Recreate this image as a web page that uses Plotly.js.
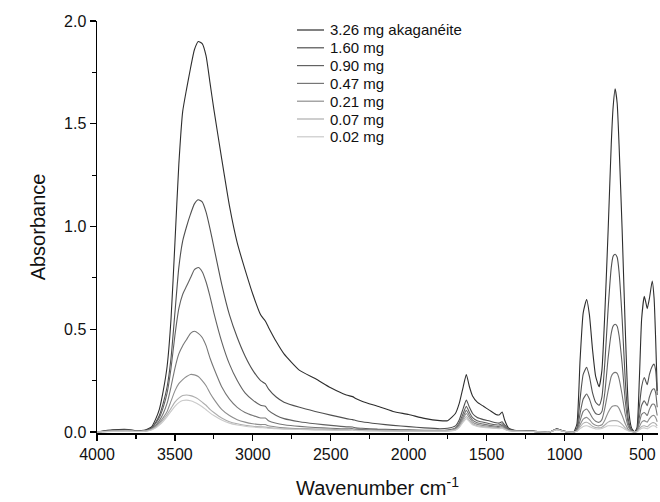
<!DOCTYPE html>
<html>
<head>
<meta charset="utf-8">
<script src="https://cdn.plot.ly/plotly-3.0.1.min.js"></script>
<style>html,body{margin:0;padding:0;background:#fff;}#chart{width:660px;height:502px;}</style>
</head>
<body>
<div id="chart"></div>
<script>
const wavenumber = [4000,3900,3800,3750,3700,3675,3650,3625,3600,3575,3550,3525,3500,3475,3450,3425,3400,3375,3350,3325,3300,3275,3250,
  3200,3150,3100,3050,3000,2950,2920,2900,2850,2800,
  2700,2600,2500,2400,2360,2340,2300,2200,2100,2000,1900,1800,1750,
  1700,1675,1650,1630,1610,1590,1560,1520,1480,1440,1420,1400,1385,1360,1300,
  1200,1100,1050,1000,950,
  940,920,900,880,858,840,820,800,778,760,740,720,700,688,675,662,650,630,610,590,570,550,535,520,505,488,475,469,455,437,425,415,405];

const seriesNames = ["3.26 mg akaganéite","1.60 mg","0.90 mg","0.47 mg","0.21 mg","0.07 mg","0.02 mg"];

const abs326 = [0.000,0.010,0.012,0.006,0.008,0.015,0.025,0.06,0.11,0.20,0.32,0.55,0.92,1.30,1.56,1.67,1.77,1.86,1.90,1.89,1.83,1.70,1.57,
  1.33,1.10,0.92,0.79,0.67,0.57,0.54,0.51,0.44,0.38,
  0.30,0.26,0.215,0.18,0.172,0.163,0.15,0.125,0.10,0.085,0.066,0.055,0.055,
  0.09,0.14,0.22,0.28,0.22,0.175,0.145,0.125,0.105,0.085,0.083,0.097,0.06,0.02,0.006,
  0.004,-0.002,0.015,0.002,-0.003,
  0.00,0.04,0.35,0.58,0.645,0.57,0.40,0.27,0.22,0.30,0.60,0.98,1.40,1.58,1.67,1.60,1.40,0.98,0.50,0.12,0.02,0.0,0.02,0.25,0.55,0.66,0.62,0.60,0.65,0.735,0.65,0.45,0.20];

const abs160 = [0.000,0.008,0.010,0.005,0.006,0.012,0.02,0.045,0.08,0.14,0.22,0.36,0.58,0.80,0.93,1.00,1.06,1.11,1.13,1.12,1.07,0.99,0.90,
  0.72,0.57,0.46,0.37,0.30,0.25,0.235,0.21,0.17,0.145,
  0.12,0.10,0.082,0.065,0.06,0.056,0.05,0.04,0.032,0.026,0.02,0.016,0.018,
  0.03,0.06,0.115,0.155,0.12,0.09,0.07,0.06,0.053,0.045,0.043,0.05,0.035,0.015,0.005,
  0.003,-0.002,0.014,0.003,-0.002,
  0.0,0.02,0.16,0.28,0.315,0.27,0.19,0.145,0.13,0.17,0.35,0.60,0.80,0.855,0.865,0.85,0.78,0.55,0.25,0.06,0.01,0.0,0.01,0.12,0.22,0.265,0.24,0.23,0.28,0.32,0.33,0.30,0.18];

const abs090 = [0.000,0.006,0.008,0.004,0.005,0.01,0.018,0.04,0.07,0.12,0.19,0.31,0.47,0.60,0.67,0.71,0.75,0.79,0.80,0.78,0.73,0.66,0.58,
  0.44,0.33,0.25,0.19,0.155,0.13,0.125,0.105,0.08,0.065,
  0.05,0.04,0.032,0.025,0.024,0.02,0.018,0.014,0.012,0.01,0.008,0.008,0.01,
  0.02,0.045,0.09,0.125,0.095,0.07,0.055,0.047,0.04,0.035,0.034,0.04,0.028,0.012,0.004,
  0.003,-0.001,0.013,0.003,-0.001,
  0,0.012,0.09,0.16,0.185,0.16,0.115,0.09,0.085,0.10,0.20,0.36,0.48,0.515,0.524,0.515,0.47,0.33,0.15,0.04,0.008,0,0.006,0.07,0.13,0.152,0.135,0.128,0.17,0.205,0.21,0.19,0.12];

const abs047 = [0,0.005,0.007,0.003,0.004,0.008,0.015,0.03,0.055,0.09,0.14,0.22,0.31,0.38,0.42,0.45,0.48,0.49,0.48,0.46,0.42,0.36,0.31,
  0.22,0.16,0.12,0.095,0.08,0.068,0.068,0.055,0.042,0.035,
  0.027,0.022,0.018,0.015,0.016,0.013,0.012,0.01,0.008,0.007,0.006,0.006,0.008,
  0.015,0.038,0.075,0.105,0.08,0.058,0.045,0.038,0.032,0.028,0.027,0.032,0.022,0.01,0.004,
  0.003,-0.001,0.012,0.003,-0.001,
  0,0.008,0.055,0.10,0.112,0.095,0.068,0.052,0.047,0.06,0.12,0.20,0.27,0.285,0.29,0.285,0.26,0.18,0.085,0.025,0.005,0,0.004,0.045,0.085,0.095,0.085,0.08,0.11,0.135,0.135,0.12,0.08];

const abs021 = [0,0.004,0.006,0.003,0.004,0.007,0.013,0.025,0.045,0.07,0.10,0.15,0.20,0.235,0.255,0.27,0.28,0.278,0.27,0.25,0.225,0.19,0.16,
  0.11,0.08,0.06,0.048,0.04,0.036,0.036,0.03,0.024,0.02,
  0.016,0.014,0.012,0.01,0.012,0.009,0.008,0.007,0.006,0.005,0.005,0.005,0.006,
  0.012,0.03,0.065,0.09,0.068,0.048,0.037,0.031,0.027,0.023,0.022,0.026,0.018,0.008,0.003,
  0.003,-0.001,0.012,0.002,-0.001,
  0,0.005,0.035,0.062,0.071,0.06,0.042,0.033,0.03,0.035,0.06,0.095,0.12,0.126,0.128,0.126,0.115,0.08,0.04,0.012,0.003,0,0.003,0.025,0.048,0.055,0.05,0.048,0.065,0.079,0.08,0.07,0.05];

const abs007 = [0,0.004,0.005,0.003,0.004,0.006,0.012,0.022,0.038,0.06,0.085,0.115,0.145,0.165,0.177,0.18,0.177,0.17,0.16,0.145,0.13,0.11,0.095,
  0.068,0.05,0.04,0.033,0.028,0.025,0.024,0.021,0.018,0.016,
  0.013,0.011,0.01,0.009,0.011,0.008,0.007,0.006,0.005,0.005,0.004,0.004,0.005,
  0.01,0.025,0.055,0.075,0.056,0.04,0.03,0.025,0.022,0.019,0.018,0.021,0.015,0.007,0.003,
  0.002,-0.001,0.011,0.002,-0.001,
  0,0.004,0.025,0.042,0.047,0.04,0.028,0.022,0.02,0.023,0.035,0.048,0.054,0.055,0.055,0.054,0.05,0.037,0.02,0.007,0.002,0,0.002,0.015,0.027,0.03,0.027,0.025,0.035,0.045,0.045,0.04,0.03];

const abs002 = [0,0.003,0.004,0.002,0.003,0.005,0.01,0.019,0.033,0.052,0.075,0.10,0.125,0.143,0.153,0.155,0.152,0.145,0.135,0.123,0.108,0.093,0.08,
  0.058,0.043,0.034,0.028,0.024,0.021,0.02,0.018,0.016,0.014,
  0.012,0.01,0.009,0.008,0.01,0.007,0.006,0.005,0.005,0.004,0.004,0.004,0.005,
  0.009,0.022,0.048,0.065,0.05,0.035,0.027,0.022,0.019,0.017,0.016,0.018,0.013,0.006,0.003,
  0.002,-0.001,0.01,0.002,-0.001,
  0,0.003,0.016,0.027,0.03,0.026,0.019,0.015,0.015,0.017,0.024,0.03,0.03,0.03,0.03,0.03,0.028,0.022,0.012,0.005,0.001,0,0.001,0.01,0.018,0.02,0.017,0.015,0.022,0.03,0.03,0.027,0.02];

const xTicks = [4000,3500,3000,2500,2000,1500,1000,500];
const yTicks = [0.0,0.5,1.0,1.5,2.0];

const allSeries = [abs326,abs160,abs090,abs047,abs021,abs007,abs002];
const colors = ["#2e2e2e","#505050","#626262","#767676","#8e8e8e","#aeaeae","#cacaca"];

const traces = allSeries.map((ys, i) => ({
  x: wavenumber, y: ys, name: seriesNames[i], type: "scatter", mode: "lines",
  showlegend: false,
  line: {color: colors[i], width: 1.1, shape: "spline", smoothing: 0.5}
}));

// Legend drawn as key lines + text labels (compact row spacing as in the reference)
const M = {l: 97, r: 2, t: 21, b: 69};
const plotW = 660 - M.l - M.r, plotH = 502 - M.t - M.b;
const px2x = px => (px - M.l) / plotW;
const py2y = py => 1 - (py - M.t) / plotH;
const legendShapes = [], legendTexts = [];
seriesNames.forEach((name, i) => {
  const py = 30 + 17.8 * i;
  legendShapes.push({type: "line", xref: "paper", yref: "paper",
    x0: px2x(297), x1: px2x(324), y0: py2y(py), y1: py2y(py),
    line: {color: colors[i], width: 1.2}});
  legendTexts.push({xref: "paper", yref: "paper", x: px2x(328), y: py2y(py),
    xanchor: "left", yanchor: "middle", showarrow: false, text: name,
    font: {family: "Liberation Sans, Arial, sans-serif", size: 15, color: "#111"}});
});

const font = "Liberation Sans, Arial, sans-serif";
const layout = {
  width: 660, height: 502,
  margin: M,
  paper_bgcolor: "#fff", plot_bgcolor: "#fff",
  font: {family: font, color: "#111"},
  showlegend: false,
  shapes: legendShapes,
  annotations: legendTexts,
  xaxis: {range: [4000, 400], tickmode: "array", tickvals: xTicks, ticktext: xTicks.map(String),
    ticks: "outside", ticklen: 6, tickwidth: 1.3, tickcolor: "#000",
    minor: {tickmode: "linear", tick0: 250, dtick: 500, ticks: "outside", ticklen: 4, tickwidth: 1.2, tickcolor: "#000"},
    showline: true, linecolor: "#000", linewidth: 1.5, showgrid: false, zeroline: false,
    tickfont: {family: font, size: 16, color: "#111"},
    title: {text: "Wavenumber cm<sup>-1</sup>", font: {family: font, size: 20, color: "#111"}, standoff: 19}},
  yaxis: {range: [-0.005, 2.0], tickmode: "array", tickvals: yTicks, ticktext: yTicks.map(v => v.toFixed(1)),
    ticks: "outside", ticklen: 6, tickwidth: 1.3, tickcolor: "#000",
    minor: {tickmode: "linear", tick0: 0.25, dtick: 0.5, ticks: "outside", ticklen: 4, tickwidth: 1.2, tickcolor: "#000"},
    showline: true, linecolor: "#000", linewidth: 1.5, showgrid: false, zeroline: false,
    tickfont: {family: font, size: 16, color: "#111"},
    title: {text: "Absorbance", font: {family: font, size: 20, color: "#111"}, standoff: 13}}
};

Plotly.newPlot("chart", traces, layout, {displayModeBar: false, staticPlot: true});
</script>
</body>
</html>
